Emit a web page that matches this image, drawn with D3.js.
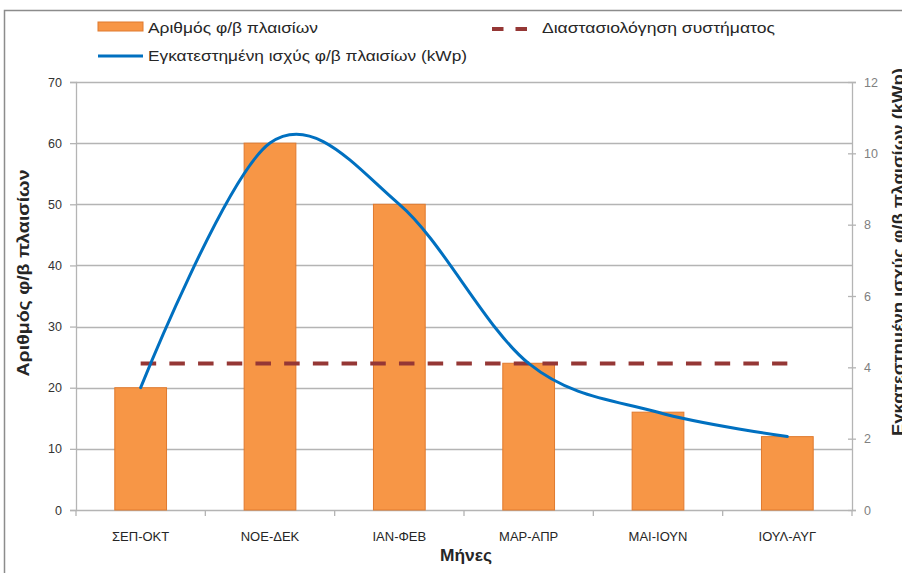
<!DOCTYPE html>
<html>
<head>
<meta charset="utf-8">
<script src="https://cdn.jsdelivr.net/npm/d3@7"></script>
<style>
  html, body { margin: 0; padding: 0; background: #fff; }
  svg { display: block; font-family: "Liberation Sans", Arial, sans-serif; }
</style>
</head>
<body>
<svg id="chart" width="902" height="573"></svg>
<script>
// Two-month periods of the year
const categories = ["ΣΕΠ-ΟΚΤ", "ΝΟΕ-ΔΕΚ", "ΙΑΝ-ΦΕΒ", "ΜΑΡ-ΑΠΡ", "ΜΑΙ-ΙΟΥΝ", "ΙΟΥΛ-ΑΥΓ"];
// Number of PV panels required per period (left axis)
const panels = [20, 60, 50, 24, 16, 12];
// Installed PV power per period, kWp (right axis)
const installedKWp = [3.43, 10.29, 8.57, 4.11, 2.74, 2.06];
// Chosen system size, kWp (right axis)
const systemSizing = [4.11, 4.11, 4.11, 4.11, 4.11, 4.11];
// Axis ticks
const leftTicks = [0, 10, 20, 30, 40, 50, 60, 70];
const rightTicks = [0, 2, 4, 6, 8, 10, 12];

const labels = {
  bars: "Αριθμός φ/β πλαισίων",
  sizing: "Διαστασιολόγηση συστήματος",
  power: "Εγκατεστημένη ισχύς φ/β πλαισίων (kWp)",
  xTitle: "Μήνες",
  yLeft: "Αριθμός φ/β πλαισίων",
  yRight: "Εγκατεστημένη ισχύς φ/β πλαισίων (kWp)"
};

const svg = d3.select("#chart");
const plot = { left: 76, right: 852, top: 82, bottom: 510 };

const x = d3.scaleBand().domain(categories).range([plot.left, plot.right]).paddingInner(0.6).paddingOuter(0.3);
const xBand = d3.scaleBand().domain(categories).range([plot.left, plot.right]);
const yL = d3.scaleLinear().domain([0, 70]).range([plot.bottom, plot.top]);
const yR = d3.scaleLinear().domain([0, 12]).range([plot.bottom, plot.top]);

const gridColor = "#b4b4b4";
const textColor = "#262626";

// Outer chart frame
svg.append("rect").attr("x", 4.5).attr("y", 10.5).attr("width", 1000).attr("height", 1000)
  .attr("fill", "#fff").attr("stroke", "#8c8c8c").attr("stroke-width", 1.5);

// Horizontal gridlines
svg.append("g").selectAll("line").data(leftTicks.filter(d => d > 0)).join("line")
  .attr("x1", plot.left).attr("x2", plot.right)
  .attr("y1", d => Math.round(yL(d)) + 0.5).attr("y2", d => Math.round(yL(d)) + 0.5)
  .attr("stroke", gridColor).attr("stroke-width", 1.3);

// Left axis
const axL = svg.append("g").attr("transform", `translate(${plot.left},0)`)
  .call(d3.axisLeft(yL).tickValues(leftTicks).tickSize(6).tickPadding(8).tickFormat(d3.format("d")));
axL.select(".domain").attr("stroke", gridColor).attr("stroke-width", 1.3);
axL.selectAll(".tick line").attr("stroke", gridColor).attr("stroke-width", 1.3);
axL.selectAll("text").attr("font-size", 12.5).attr("fill", "#333").attr("font-family", "Liberation Sans, Arial, sans-serif");

// Right axis
const axR = svg.append("g").attr("transform", `translate(${plot.right},0)`)
  .call(d3.axisRight(yR).tickValues(rightTicks).tickSize(4).tickPadding(8).tickFormat(d3.format("d")));
axR.select(".domain").attr("stroke", gridColor).attr("stroke-width", 1.3);
axR.selectAll(".tick line").attr("x1", -4).attr("stroke", gridColor).attr("stroke-width", 1.3);
axR.selectAll("text").attr("font-size", 12.5).attr("fill", "#808080").attr("font-family", "Liberation Sans, Arial, sans-serif");

// Bottom axis: baseline, category separators and labels
const axB = svg.append("g").attr("transform", `translate(0,${plot.bottom})`)
  .call(d3.axisBottom(xBand).tickSize(0).tickPadding(22));
axB.select(".domain").attr("stroke", gridColor).attr("stroke-width", 1.3);
axB.selectAll("text").attr("font-size", 13).attr("fill", textColor).attr("font-family", "Liberation Sans, Arial, sans-serif");
const seps = categories.map(c => xBand(c)).concat([plot.right]);
svg.append("g").selectAll("line").data(seps).join("line")
  .attr("x1", d => d).attr("x2", d => d)
  .attr("y1", plot.bottom).attr("y2", plot.bottom + 6)
  .attr("stroke", gridColor).attr("stroke-width", 1.3);

// Bars
svg.append("g").selectAll("rect").data(panels).join("rect")
  .attr("x", (d, i) => x(categories[i]))
  .attr("y", d => yL(d))
  .attr("width", x.bandwidth())
  .attr("height", d => yL(0) - yL(d))
  .attr("fill", "#f79646").attr("stroke", "#e07a2e").attr("stroke-width", 1);

const cx = i => xBand(categories[i]) + xBand.bandwidth() / 2;

// System sizing line (dashed)
svg.append("path").datum(systemSizing)
  .attr("d", d3.line().x((d, i) => cx(i)).y(d => yR(d)))
  .attr("fill", "none").attr("stroke", "#953735").attr("stroke-width", 4)
  .attr("stroke-dasharray", "15.5,13.2");

// Installed power (smoothed line)
svg.append("path").datum(installedKWp)
  .attr("d", d3.line().x((d, i) => cx(i)).y(d => yR(d)).curve(d3.curveCardinal.tension(0)))
  .attr("fill", "none").attr("stroke", "#0070c0").attr("stroke-width", 3).attr("stroke-linecap", "round");

// Axis titles
svg.append("text").attr("x", 466).attr("y", 561).attr("text-anchor", "middle")
  .attr("font-size", 16).attr("font-weight", "bold").attr("fill", textColor)
  .attr("textLength", 52).attr("lengthAdjust", "spacingAndGlyphs").text(labels.xTitle);
svg.append("text").attr("transform", "translate(29,273) rotate(-90)").attr("text-anchor", "middle")
  .attr("font-size", 16).attr("font-weight", "bold").attr("fill", textColor)
  .attr("textLength", 207).attr("lengthAdjust", "spacingAndGlyphs").text(labels.yLeft);
svg.append("text").attr("transform", "translate(904,252) rotate(-90)").attr("text-anchor", "middle")
  .attr("font-size", 16).attr("font-weight", "bold").attr("fill", textColor)
  .attr("textLength", 368).attr("lengthAdjust", "spacingAndGlyphs").text(labels.yRight);

// Legend
const lg = svg.append("g").attr("font-size", 15).attr("fill", textColor);
lg.append("rect").attr("x", 98).attr("y", 22).attr("width", 45).attr("height", 9)
  .attr("fill", "#f79646").attr("stroke", "#e07a2e").attr("stroke-width", 1);
lg.append("text").attr("x", 148).attr("y", 33)
  .attr("textLength", 170).attr("lengthAdjust", "spacingAndGlyphs").text(labels.bars);
lg.append("line").attr("x1", 492).attr("x2", 527).attr("y1", 29).attr("y2", 29)
  .attr("stroke", "#953735").attr("stroke-width", 4).attr("stroke-dasharray", "11.5,12");
lg.append("text").attr("x", 542).attr("y", 33)
  .attr("textLength", 233).attr("lengthAdjust", "spacingAndGlyphs").text(labels.sizing);
lg.append("line").attr("x1", 98).attr("x2", 143).attr("y1", 56).attr("y2", 56)
  .attr("stroke", "#0070c0").attr("stroke-width", 3);
lg.append("text").attr("x", 148).attr("y", 61)
  .attr("textLength", 319).attr("lengthAdjust", "spacingAndGlyphs").text(labels.power);
</script>
</body>
</html>
